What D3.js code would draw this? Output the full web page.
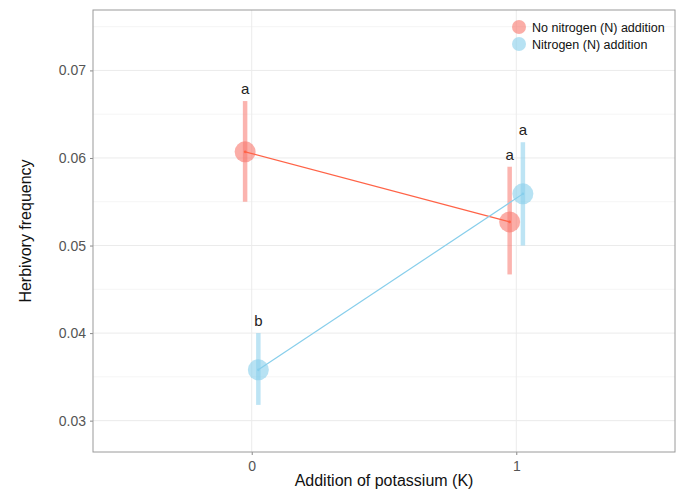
<!DOCTYPE html>
<html><head><meta charset="utf-8">
<script src="https://cdn.jsdelivr.net/npm/d3@7"></script>
<style>body{margin:0;background:#fff;} text{font-family:"Liberation Sans",Arial,sans-serif;}</style>
</head><body><svg id="c" width="682" height="493"></svg>
<script>
const groups = ["No nitrogen (N) addition", "Nitrogen (N) addition"];
const potassium = [0, 1];
const meanNoN = [0.0607, 0.0527];
const lowNoN = [0.0550, 0.0467];
const highNoN = [0.0665, 0.0590];
const labelNoN = ["a", "a"];
const meanN = [0.0358, 0.0559];
const lowN = [0.0318, 0.0500];
const highN = [0.0400, 0.0618];
const labelN = ["b", "a"];
const yTicks = [0.03, 0.04, 0.05, 0.06, 0.07];
const yMinor = [0.035, 0.045, 0.055, 0.065, 0.075];
const xTicks = [0, 1];

const svg = d3.select("#c");
const m = {l:93, r:675, t:10, b:452};
const x = d3.scaleLinear().domain([-0.6, 1.6]).range([m.l, m.r]);
const y = d3.scaleLinear().domain([0.02642, 0.0769]).range([m.b, m.t]);
const dodge = 0.025;
const colPt = ["#F8766D", "#87CEEB"];
const colLine = ["#FF6347", "#87CEEB"];

// grid
svg.selectAll(".gmin").data(yMinor).join("line")
  .attr("x1", m.l).attr("x2", m.r).attr("y1", d=>y(d)).attr("y2", d=>y(d))
  .attr("stroke", "#f2f2f2").attr("stroke-width", 0.8);
svg.selectAll(".gmaj").data(yTicks).join("line")
  .attr("x1", m.l).attr("x2", m.r).attr("y1", d=>y(d)).attr("y2", d=>y(d))
  .attr("stroke", "#ebebeb").attr("stroke-width", 1);
svg.selectAll(".gx").data(xTicks).join("line")
  .attr("x1", d=>x(d)).attr("x2", d=>x(d)).attr("y1", m.t).attr("y2", m.b)
  .attr("stroke", "#ebebeb").attr("stroke-width", 1);

// axes
const ya = svg.append("g").attr("transform", `translate(${m.l},0)`)
  .call(d3.axisLeft(y).tickValues(yTicks).tickFormat(d3.format(".2f")).tickSize(3).tickPadding(4));
const xa = svg.append("g").attr("transform", `translate(0,${m.b})`)
  .call(d3.axisBottom(x).tickValues(xTicks).tickFormat(d3.format("d")).tickSize(3).tickPadding(6));
[ya, xa].forEach(a => {
  a.select(".domain").remove();
  a.selectAll("line").attr("stroke", "#888");
  a.selectAll("text").attr("fill", "#555").style("font-size", "14px").style("font-family", "'Liberation Sans',Arial,sans-serif");
});
svg.append("rect").attr("x", m.l).attr("y", m.t).attr("width", m.r-m.l).attr("height", m.b-m.t)
  .attr("fill", "none").attr("stroke", "#9a9a9a").attr("stroke-width", 1);

// series
const series = [
  {mean: meanNoN, low: lowNoN, high: highNoN, lab: labelNoN, off: -dodge, i: 0},
  {mean: meanN, low: lowN, high: highN, lab: labelN, off: dodge, i: 1}
];
series.forEach(s => {
  const pts = potassium.map((k, j) => ({x: k + s.off, m: s.mean[j], lo: s.low[j], hi: s.high[j], lab: s.lab[j]}));
  const g = svg.append("g");
  g.selectAll(".eb").data(pts).join("line")
    .attr("x1", d=>x(d.x)).attr("x2", d=>x(d.x)).attr("y1", d=>y(d.lo)).attr("y2", d=>y(d.hi))
    .attr("stroke", colPt[s.i]).attr("stroke-opacity", 0.55).attr("stroke-width", 4.5);
  g.selectAll(".pt").data(pts).join("circle")
    .attr("cx", d=>x(d.x)).attr("cy", d=>y(d.m)).attr("r", 10.5)
    .attr("fill", colPt[s.i]).attr("fill-opacity", 0.6);
  g.append("path").datum(pts)
    .attr("d", d3.line().x(d=>x(d.x)).y(d=>y(d.m)))
    .attr("stroke", colLine[s.i]).attr("stroke-width", 1.2).attr("fill", "none");
  g.selectAll(".dot").data(pts).join("circle")
    .attr("cx", d=>x(d.x)).attr("cy", d=>y(d.m)).attr("r", 1.3).attr("fill", colLine[s.i]);
  g.selectAll(".lab").data(pts).join("text")
    .attr("x", d=>x(d.x)).attr("y", d=>y(d.hi) - 7)
    .attr("text-anchor", "middle").attr("fill", "#222").style("font-size", "15px").text(d=>d.lab);
});

// axis titles
svg.append("text").attr("x", (m.l+m.r)/2).attr("y", 486).attr("text-anchor", "middle")
  .attr("fill", "#111").style("font-size", "16px").text("Addition of potassium (K)");
svg.append("text").attr("transform", `translate(31,${(m.t+m.b)/2}) rotate(-90)`).attr("text-anchor", "middle")
  .attr("fill", "#111").style("font-size", "16px").text("Herbivory frequency");

// legend
const lg = svg.append("g");
groups.forEach((gname, i) => {
  lg.append("circle").attr("cx", 519).attr("cy", 27 + i*17).attr("r", 7).attr("fill", colPt[i]).attr("fill-opacity", 0.6);
  lg.append("text").attr("x", 532).attr("y", 27 + i*17 + 4.5).attr("fill", "#111").style("font-size", "12.5px").text(gname);
});
</script></body></html>
